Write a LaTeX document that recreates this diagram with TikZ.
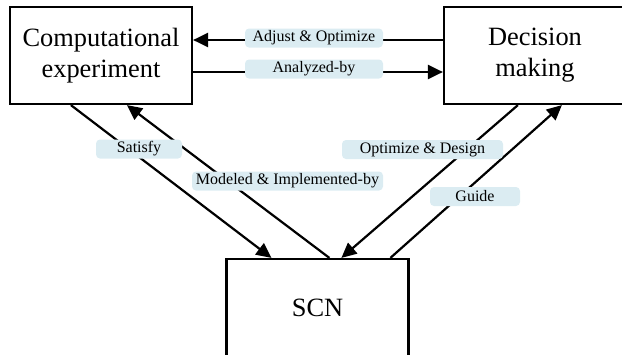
\documentclass[tikz,border=0pt]{standalone}
\usepackage{fontspec}
\IfFontExistsTF{Liberation Serif}
  {\setmainfont{Liberation Serif}}
  {\setmainfont{DejaVu Serif}}
\usetikzlibrary{arrows.meta}
\definecolor{TagBlue}{RGB}{219,236,242}
\definecolor{EdgeBlack}{RGB}{0,0,0}

\begin{document}
\begin{tikzpicture}[x=0.5pt,y=-0.5pt,
    blockbox/.style={draw=EdgeBlack,line width=1.1pt,minimum width=91pt,
      minimum height=48.5pt,inner sep=0pt,align=center,
      font=\rmfamily\fontsize{13.2}{15.5}\selectfont},
    edgetag/.style={fill=TagBlue,rounded corners=2pt,minimum height=9.5pt,
      inner sep=0pt,font=\rmfamily\fontsize{8}{9}\selectfont},
    flow/.style={draw=EdgeBlack,line width=1.1pt,-{Triangle[length=7.5pt,width=7pt]}}]
  \useasboundingbox (0,0) rectangle (622,354);
  \clip (0,0) rectangle (622,354);

  % three blocks
  \node[blockbox] (comp) at (101,55.5) {Computational\\experiment};
  \node[blockbox] (dec)  at (535,55.5) {Decision\\making};
  \node[blockbox] (scn)  at (317.5,307.5) {SCN};

  % top pair
  \draw[flow] ([yshift=7.75pt]dec.west) -- ([yshift=7.75pt]comp.east);
  \draw[flow] ([yshift=-8.25pt]comp.east) -- ([yshift=-8.25pt]dec.west);

  % left pair
  \draw[flow] ([xshift=31pt]comp.south west) -- ([xshift=23pt]scn.north west);
  \draw[flow] ([xshift=52pt]scn.north west) -- ([xshift=59pt]comp.south west);

  % right pair
  \draw[flow] ([xshift=37.5pt]dec.south west) -- ([xshift=58pt]scn.north west);
  \draw[flow] ([xshift=82.5pt]scn.north west) -- ([xshift=59.5pt]dec.south west);

  % edge labels
  \node[edgetag,minimum width=69pt]   (tadj) at (314,38)    {Adjust \& Optimize};
  \node[edgetag,minimum width=69pt]   (tana) at (314,69)    {Analyzed-by};
  \node[edgetag,minimum width=43pt]   (tsat) at (139,149)   {Satisfy};
  \node[edgetag,minimum width=95.5pt] (tmod) at (287.5,181) {Modeled \& Implemented-by};
  \node[edgetag,minimum width=80.5pt] (topt) at (422.5,149.5) {Optimize \& Design};
  \node[edgetag,minimum width=45pt]   (tgui) at (475,196.5) {Guide};
\end{tikzpicture}
\end{document}
